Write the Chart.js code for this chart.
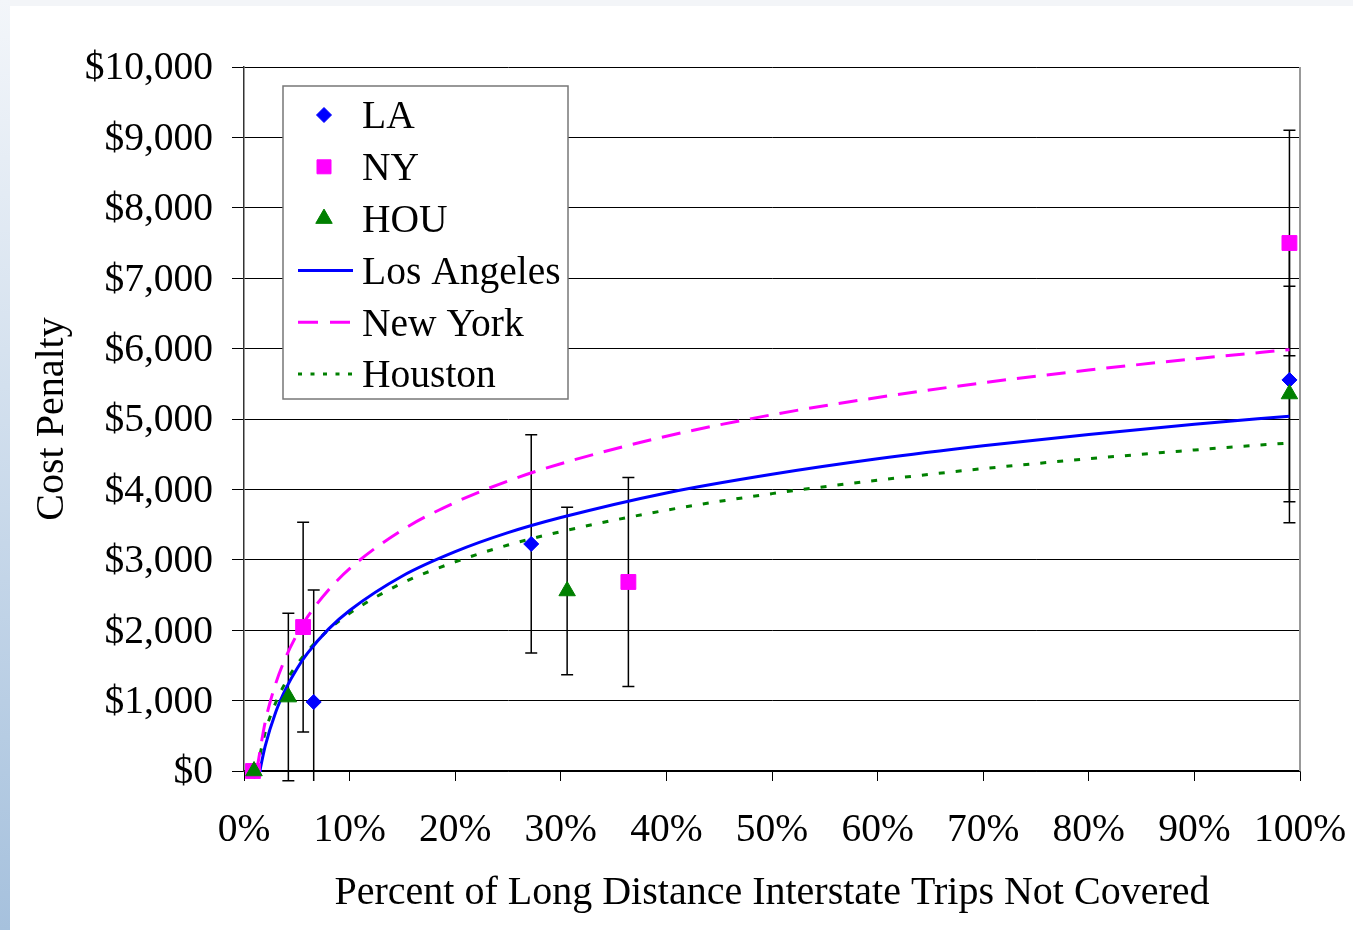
<!DOCTYPE html>
<html>
<head>
<meta charset="utf-8">
<script src="https://cdn.jsdelivr.net/npm/chart.js@4.4.0/dist/chart.umd.min.js"></script>
<style>
  html, body { margin: 0; padding: 0; background: #fff; }
</style>
</head>
<body>
<canvas id="chart1" width="1353" height="930"></canvas>
<script>
// observed points (x = % of trips not covered, y = cost penalty $)
const laX = [1.0, 6.6, 27.2, 99];
const laY = [0, 980, 3225, 5555];
const laErr = [0, 1590, 1550, 2030];

const nyX = [0.85, 5.6, 36.4, 99];
const nyY = [0, 2045, 2685, 7500];
const nyErr = [0, 1490, 1485, 1600];

const houX = [0.95, 4.2, 30.6, 99];
const houY = [0, 1050, 2557, 5355];
const houErr = [0, 1190, 1190, 1530];

// fitted curves
const laFitX = [1.5, 2, 3, 4, 5, 6, 8, 10, 15, 20, 25, 30, 40, 50, 60, 70, 80, 90, 99];
const laFitY = [0, 350, 835, 1180, 1450, 1670, 2015, 2280, 2770, 3115, 3385, 3600, 3950, 4215, 4435, 4620, 4780, 4925, 5040];

const nyFitX = [1.2, 2, 3, 4, 5, 6, 8, 10, 15, 20, 25, 30, 40, 50, 60, 70, 80, 90, 99];
const nyFitY = [0, 690, 1240, 1630, 1935, 2185, 2570, 2875, 3425, 3815, 4120, 4365, 4755, 5060, 5305, 5515, 5695, 5855, 5985];

const houFitX = [1.2, 2, 3, 4, 5, 6, 8, 10, 15, 20, 25, 30, 40, 50, 60, 70, 80, 90, 99];
const houFitY = [0, 545, 970, 1275, 1510, 1700, 2005, 2240, 2670, 2970, 3210, 3400, 3705, 3940, 4130, 4295, 4435, 4560, 4660];

const BLUE = '#0000ff', MAG = '#ff00ff', GREEN = '#008000';
const FAMILY = '"Liberation Serif", "Times New Roman", serif';
const TICK_FONT = { family: FAMILY, size: 39.5 };
const TITLE_FONT = { family: FAMILY, size: 40 };

function pts(xs, ys) {
  return xs.map((x, i) => ({ x: x, y: ys[i] }));
}

// page background: pale blue strip on the left edge
const bgPlugin = {
  id: 'bg',
  beforeDraw(chart) {
    const ctx = chart.ctx, w = chart.width, h = chart.height;
    ctx.save();
    ctx.fillStyle = '#f3f5f8';
    ctx.fillRect(0, 0, w, h);
    const g = ctx.createLinearGradient(0, 0, 0, h);
    g.addColorStop(0, '#f3f6fa');
    g.addColorStop(1, '#a6c1dd');
    ctx.fillStyle = g;
    ctx.fillRect(0, 0, 10, h);
    ctx.fillStyle = '#fff';
    ctx.fillRect(10, 6, w - 10, h - 6);
    ctx.restore();
  }
};

// error bars + right plot border
const errorBarPlugin = {
  id: 'errorBars',
  beforeDatasetsDraw(chart) {
    const ctx = chart.ctx, xs = chart.scales.x, ys = chart.scales.y, area = chart.chartArea;
    ctx.save();
    ctx.strokeStyle = '#999';
    ctx.lineWidth = 2;
    ctx.beginPath();
    ctx.moveTo(area.right, area.top);
    ctx.lineTo(area.right, area.bottom);
    ctx.stroke();

    ctx.strokeStyle = '#000';
    ctx.lineWidth = 1.5;
    chart.data.datasets.forEach(ds => {
      if (!ds.errorBars) return;
      ds.data.forEach((p, i) => {
        const e = ds.errorBars[i];
        if (!e) return;
        const px = xs.getPixelForValue(p.x);
        const top = ys.getPixelForValue(p.y + e);
        let bot = ys.getPixelForValue(p.y - e);
        let botCap = true;
        if (bot > area.bottom + 10) { bot = area.bottom + 10; botCap = false; }
        ctx.beginPath();
        ctx.moveTo(px, top); ctx.lineTo(px, bot);
        ctx.moveTo(px - 6, top); ctx.lineTo(px + 6, top);
        if (botCap) { ctx.moveTo(px - 6, bot); ctx.lineTo(px + 6, bot); }
        ctx.stroke();
      });
    });
    ctx.restore();
  }
};

function marker(ctx, style, x, y, color) {
  ctx.fillStyle = color;
  ctx.strokeStyle = color;
  ctx.lineWidth = 1;
  ctx.beginPath();
  if (style === 'rectRot') {
    const r = 7.5;
    ctx.moveTo(x - r, y); ctx.lineTo(x, y - r); ctx.lineTo(x + r, y); ctx.lineTo(x, y + r);
  } else if (style === 'rect') {
    const s = 7;
    ctx.rect(x - s, y - s, 2 * s, 2 * s);
  } else {
    const r = 9.5;
    ctx.moveTo(x, y - r);
    ctx.lineTo(x + r * 0.866, y + r * 0.5);
    ctx.lineTo(x - r * 0.866, y + r * 0.5);
  }
  ctx.closePath();
  ctx.fill();
  ctx.stroke();
}

const legendItems = [
  { text: 'LA', kind: 'point', style: 'rectRot', color: BLUE },
  { text: 'NY', kind: 'point', style: 'rect', color: MAG },
  { text: 'HOU', kind: 'point', style: 'triangle', color: GREEN },
  { text: 'Los Angeles', kind: 'line', dash: [], color: BLUE },
  { text: 'New York', kind: 'line', dash: [20, 12], color: MAG },
  { text: 'Houston', kind: 'line', dash: [4, 8.5], color: GREEN }
];

const legendPlugin = {
  id: 'boxLegend',
  afterDraw(chart) {
    const ctx = chart.ctx;
    const bx = 283, by = 86, bw = 285, bh = 313;
    ctx.save();
    ctx.fillStyle = '#fff';
    ctx.fillRect(bx, by, bw, bh);
    ctx.strokeStyle = '#777';
    ctx.lineWidth = 1.5;
    ctx.strokeRect(bx, by, bw, bh);
    ctx.font = TICK_FONT.size + 'px ' + FAMILY;
    ctx.textBaseline = 'middle';
    ctx.textAlign = 'left';
    legendItems.forEach((it, i) => {
      const y = 115 + i * 51.8;
      if (it.kind === 'point') {
        marker(ctx, it.style, 324, y, it.color);
      } else {
        ctx.strokeStyle = it.color;
        ctx.lineWidth = 3;
        ctx.setLineDash(it.dash);
        ctx.beginPath();
        ctx.moveTo(298, y); ctx.lineTo(353, y);
        ctx.stroke();
        ctx.setLineDash([]);
      }
      ctx.fillStyle = '#000';
      ctx.fillText(it.text, 362, y + 3);
    });
    ctx.restore();
  }
};

const config = {
  type: 'scatter',
  data: {
    datasets: [
      { label: 'HOU', data: pts(houX, houY), errorBars: houErr, pointStyle: 'triangle', pointRadius: 9.5,
        backgroundColor: GREEN, borderColor: GREEN, borderWidth: 1, clip: false },
      { label: 'NY', data: pts(nyX, nyY), errorBars: nyErr, pointStyle: 'rect', pointRadius: 10.5,
        backgroundColor: MAG, borderColor: MAG, borderWidth: 1, clip: false },
      { label: 'LA', data: pts(laX, laY), errorBars: laErr, pointStyle: 'rectRot', pointRadius: 7.5,
        backgroundColor: BLUE, borderColor: BLUE, borderWidth: 1, clip: false },
      { label: 'Los Angeles', data: pts(laFitX, laFitY), showLine: true, pointRadius: 0,
        borderColor: BLUE, borderWidth: 3, cubicInterpolationMode: 'monotone' },
      { label: 'New York', data: pts(nyFitX, nyFitY), showLine: true, pointRadius: 0,
        borderColor: MAG, borderWidth: 3, borderDash: [19, 11], cubicInterpolationMode: 'monotone' },
      { label: 'Houston', data: pts(houFitX, houFitY), showLine: true, pointRadius: 0,
        borderColor: GREEN, borderWidth: 3, borderDash: [6, 11], cubicInterpolationMode: 'monotone' }
    ]
  },
  options: {
    responsive: false,
    animation: false,
    layout: { padding: { top: 67, right: 53, left: 0, bottom: 0 } },
    plugins: {
      legend: { display: false },
      tooltip: { enabled: false }
    },
    scales: {
      x: {
        type: 'linear', min: 0, max: 100,
        afterFit(s) { s.height = 159; s.paddingRight = 0; s.paddingLeft = 0; },
        ticks: { stepSize: 10, autoSkip: false, maxRotation: 0, color: '#000', font: TICK_FONT, padding: 26,
          callback: v => v + '%' },
        grid: { drawOnChartArea: false, tickLength: 10, color: '#000' },
        border: { color: '#000', width: 1.5 },
        title: { display: true, text: 'Percent of Long Distance Interstate Trips Not Covered',
          color: '#000', font: TITLE_FONT, padding: { bottom: 13 } }
      },
      y: {
        min: 0, max: 10000,
        afterFit(s) { s.width = 244; s.paddingTop = 0; s.paddingBottom = 0; },
        ticks: { stepSize: 1000, color: '#000', font: TICK_FONT, padding: 19, labelOffset: 2,
          callback: v => '$' + v.toLocaleString('en-US') },
        grid: { color: '#000', lineWidth: 1, tickLength: 12 },
        border: { color: '#333', width: 1.5 },
        title: { display: true, text: 'Cost Penalty', color: '#000', font: TITLE_FONT, padding: { top: 28 } }
      }
    }
  },
  plugins: [bgPlugin, errorBarPlugin, legendPlugin]
};

var myChart = new Chart(
  document.getElementById('chart1'),
  config
);
</script>
</body>
</html>
